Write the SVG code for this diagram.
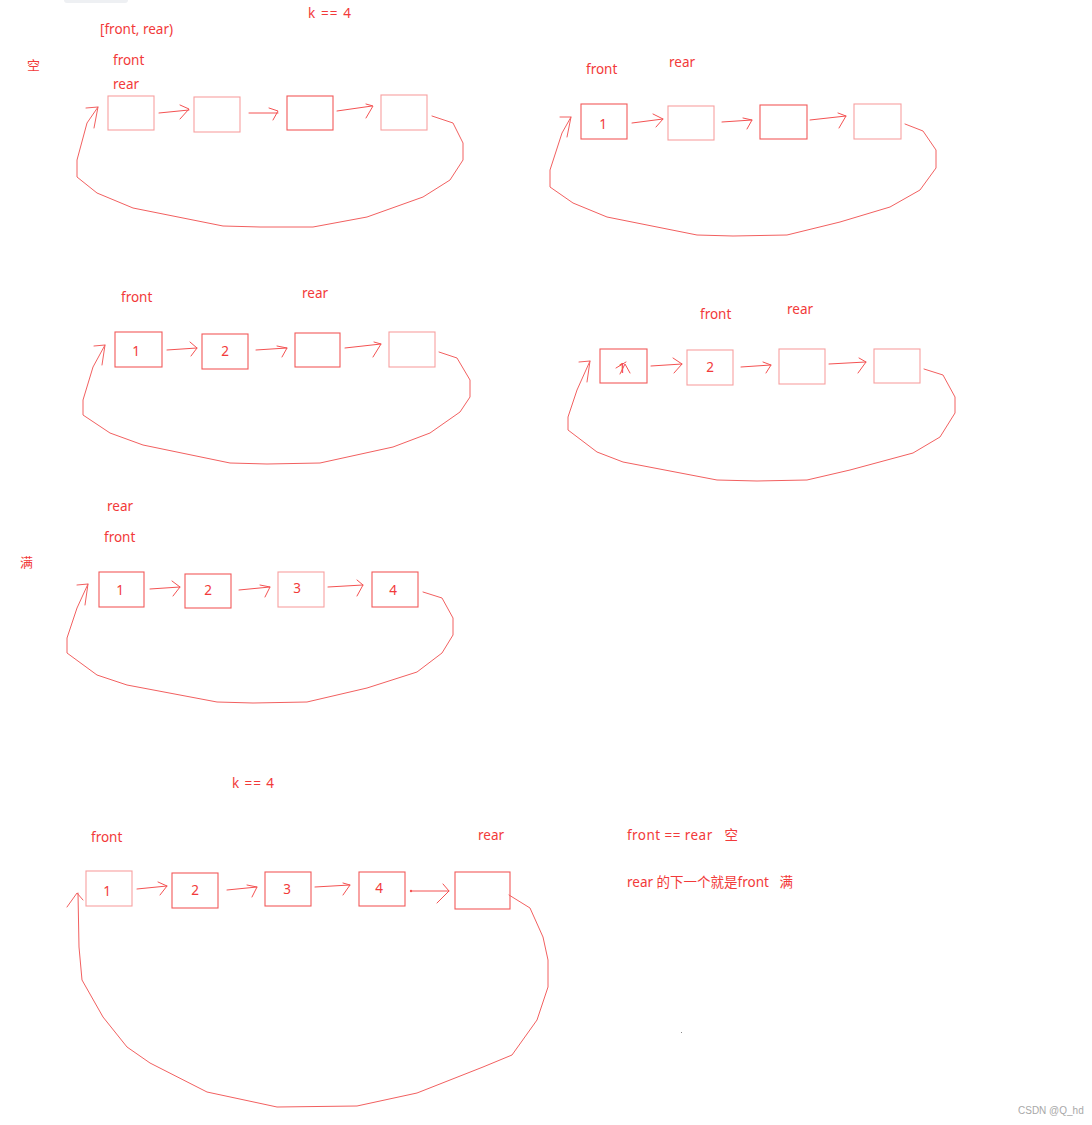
<svg xmlns="http://www.w3.org/2000/svg" width="1092" height="1125" viewBox="0 0 1092 1125">
<style>
text{font-family:"Noto Sans","Noto Sans CJK SC","Liberation Sans",sans-serif;fill:#f23a3a;font-size:13.5px}
.num{font-size:13.5px;text-anchor:middle}
.box{fill:none;stroke:#f25a5a;stroke-width:1.1}
.lt{stroke:#f7a0a0}
.ln{fill:none;stroke:#f45252;stroke-width:1;stroke-linejoin:round;stroke-linecap:round}
.loop{fill:none;stroke:#f26060;stroke-width:1;stroke-linejoin:round;stroke-linecap:round}
.wm{fill:#a8a8a8;font-size:10px;font-family:"Liberation Sans",sans-serif}
</style>
<rect x="0" y="0" width="1092" height="1125" fill="#ffffff"/>
<rect x="64" y="-6" width="64" height="9" rx="3" fill="#eef0f3"/>

<!-- labels -->
<g id="labels">
<text x="308" y="18" textLength="43">k == 4</text>
<text x="100" y="34">[front, rear)</text>
<text x="27" y="70" style="font-size:13px">空</text>
<text x="113" y="65">front</text>
<text x="113" y="89">rear</text>
<text x="586" y="74">front</text>
<text x="669" y="67">rear</text>
<text x="121" y="302">front</text>
<text x="302" y="298">rear</text>
<text x="700" y="319">front</text>
<text x="787" y="314">rear</text>
<text x="107" y="511">rear</text>
<text x="104" y="542">front</text>
<text x="20" y="567" style="font-size:13px">满</text>
<text x="232" y="788" textLength="42">k == 4</text>
<text x="91" y="842">front</text>
<text x="478" y="840">rear</text>
<text x="627" y="840" xml:space="preserve" textLength="111">front == rear   空</text>
<text x="627" y="887" xml:space="preserve">rear 的下一个就是front   满</text>
<text class="wm" x="1018" y="1114">CSDN @Q_hd</text>
</g>

<!-- diagram 1 -->
<g id="d1-n1"><rect class="box lt" x="108" y="96" width="46" height="34"/></g>
<g id="d1-n2"><rect class="box lt" x="194" y="97" width="46" height="35"/></g>
<g id="d1-n3"><rect class="box" x="287" y="96" width="46" height="34"/></g>
<g id="d1-n4"><rect class="box lt" x="381" y="95" width="46" height="35"/></g>

<!-- diagram 2 -->
<g id="d2-n1"><rect class="box" x="581" y="104" width="46" height="35"/><text class="num" x="603" y="129">1</text></g>
<g id="d2-n2"><rect class="box lt" x="668" y="106" width="46" height="34"/></g>
<g id="d2-n3"><rect class="box" x="760" y="105" width="47" height="34"/></g>
<g id="d2-n4"><rect class="box lt" x="854" y="104" width="47" height="35"/></g>

<!-- diagram 3 -->
<g id="d3-n1"><rect class="box" x="115" y="332" width="47" height="35"/><text class="num" x="136" y="356">1</text></g>
<g id="d3-n2"><rect class="box" x="202" y="334" width="46" height="35"/><text class="num" x="225" y="356">2</text></g>
<g id="d3-n3"><rect class="box" x="295" y="333" width="45" height="34"/></g>
<g id="d3-n4"><rect class="box lt" x="389" y="332" width="46" height="35"/></g>

<!-- diagram 4 -->
<g id="d4-n1"><rect class="box" x="600" y="349" width="47" height="34"/><text class="num" x="622" y="373">1</text><path class="ln" d="M616,368 L626,362 M620,374 L625,364 L630,373"/></g>
<g id="d4-n2"><rect class="box lt" x="687" y="350" width="46" height="35"/><text class="num" x="710" y="372">2</text></g>
<g id="d4-n3"><rect class="box lt" x="779" y="349" width="46" height="35"/></g>
<g id="d4-n4"><rect class="box lt" x="874" y="349" width="46" height="34"/></g>

<!-- diagram 5 -->
<g id="d5-n1"><rect class="box" x="99" y="572" width="45" height="35"/><text class="num" x="120" y="595">1</text></g>
<g id="d5-n2"><rect class="box" x="185" y="574" width="46" height="34"/><text class="num" x="208" y="595">2</text></g>
<g id="d5-n3"><rect class="box lt" x="278" y="572" width="46" height="35"/><text class="num" x="297" y="593">3</text></g>
<g id="d5-n4"><rect class="box" x="372" y="572" width="46" height="35"/><text class="num" x="393" y="595">4</text></g>

<!-- diagram 6 -->
<g id="d6-n1"><rect class="box lt" x="86" y="871" width="46" height="35"/><text class="num" x="107" y="896">1</text></g>
<g id="d6-n2"><rect class="box" x="172" y="873" width="46" height="35"/><text class="num" x="195" y="895">2</text></g>
<g id="d6-n3"><rect class="box" x="265" y="872" width="46" height="34"/><text class="num" x="287" y="894">3</text></g>
<g id="d6-n4"><rect class="box" x="359" y="872" width="46" height="34"/><text class="num" x="379" y="893">4</text></g>
<g id="d6-n5"><rect class="box" x="455" y="872" width="55" height="37"/></g>

<g id="connectors">
<!-- d1 -->
<path class="ln" d="M159,113 L189,110 M180,105 L189,109 L180,119"/>
<path class="ln" d="M249,113 L278,113 M269,108 L278,111 L273,120"/>
<path class="ln" d="M337,111 L372,106 M366,104 L373,106 L366,118"/>
<polyline class="loop" points="432,116 453,123 463,143 463,160 450,180 423,197 367,217 313,227 260,227 223,226 133,208 97,193 77,177 77,160 87,123 98,107"/>
<path class="loop" d="M86,108 L98,107 L94,128"/>
<!-- d2 -->
<path class="ln" d="M632,123 L663,119 M653,114 L663,119 L656,127"/>
<path class="ln" d="M722,122 L752,120 M743,118 L752,120 L747,129"/>
<path class="ln" d="M810,120 L846,116 M838,113 L846,116 L839,128"/>
<polyline class="loop" points="905,124 923,131 936,150 936,168 920,190 890,207 840,222 787,235 733,236 697,235 607,217 573,203 550,187 550,170 562,133 571,117"/>
<path class="loop" d="M560,117 L571,117 L567,137"/>
<!-- d3 -->
<path class="ln" d="M167,350 L197,348 M190,342 L197,348 L191,356"/>
<path class="ln" d="M256,350 L287,348 M277,346 L287,348 L282,357"/>
<path class="ln" d="M345,348 L381,344 M374,342 L381,344 L373,357"/>
<polyline class="loop" points="439,352 457,358 470,380 470,397 460,412 430,433 393,447 320,463 267,464 230,463 143,445 110,433 83,415 83,400 93,367 105,345"/>
<path class="loop" d="M94,346 L105,345 L102,365"/>
<!-- d4 -->
<path class="ln" d="M651,366 L682,364 M673,358 L682,364 L674,373"/>
<path class="ln" d="M741,367 L771,365 M763,362 L771,365 L766,373"/>
<path class="ln" d="M829,364 L866,362 M859,358 L866,362 L858,373"/>
<polyline class="loop" points="924,369 943,375 955,397 955,413 940,437 913,453 850,470 807,480 757,481 717,480 623,462 597,452 568,430 568,417 577,390 590,361"/>
<path class="loop" d="M579,362 L590,361 L587,382"/>
<!-- d5 -->
<path class="ln" d="M150,589 L180,587 M172,581 L180,587 L173,596"/>
<path class="ln" d="M239,590 L270,587 M260,585 L270,587 L265,597"/>
<path class="ln" d="M328,587 L363,585 M357,580 L363,585 L357,596"/>
<polyline class="loop" points="423,592 442,598 453,618 453,635 442,653 417,672 367,688 307,702 253,703 217,702 127,685 97,675 67,653 67,638 77,608 88,584"/>
<path class="loop" d="M77,585 L88,584 L85,605"/>
<!-- d6 -->
<path class="ln" d="M137,889 L167,886 M158,882 L167,886 L160,895"/>
<path class="ln" d="M227,890 L257,887 M247,885 L257,887 L252,897"/>
<path class="ln" d="M315,887 L350,885 M343,883 L350,885 L343,895"/>
<path class="ln" d="M411,891 L449,891 M443,884 L449,891 L437,903"/>
<circle cx="411" cy="891" r="1.2" fill="#f45252"/>
<polyline class="loop" points="509,895 530,908 543,937 548,960 548,987 537,1020 512,1055 483,1067 417,1093 357,1106 277,1107 207,1092 150,1063 127,1047 103,1017 82,980 79,947 78,893"/>
<path class="loop" d="M67,907 L77,893 L83,900"/>
</g>
<rect x="681" y="1032" width="1" height="1" fill="#888"/>
</svg>
